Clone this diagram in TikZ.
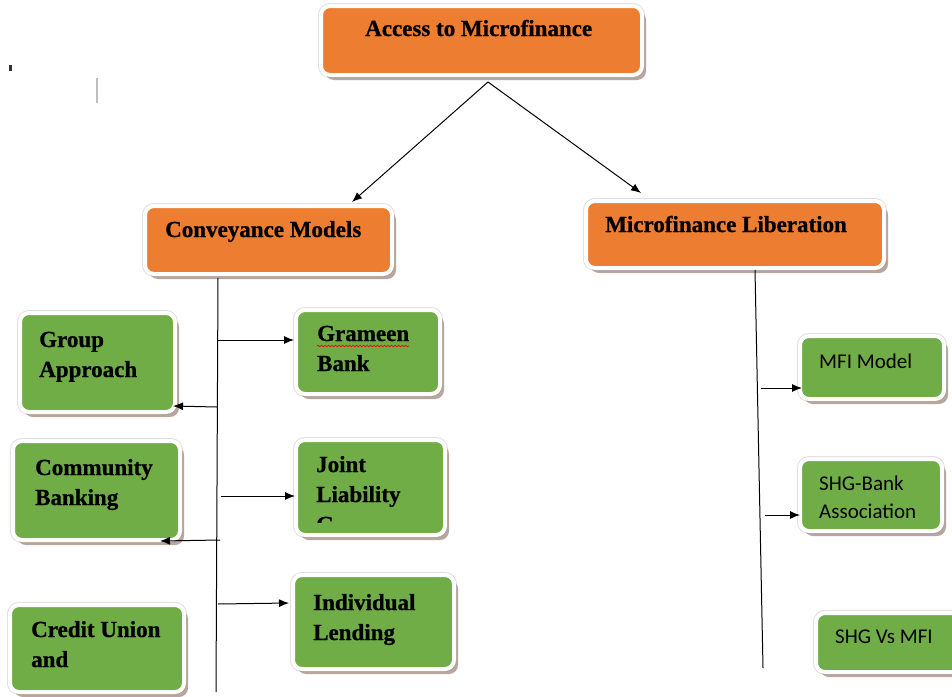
\documentclass[tikz,border=0pt]{standalone}
\usepackage{fontspec}
\setmainfont[BoldFeatures={FakeBold=0.8}]{Liberation Serif}
\newfontfamily\calib{Carlito}
\usetikzlibrary{shadows,arrows.meta,decorations.pathmorphing}
\definecolor{boxorange}{RGB}{237,125,49}
\definecolor{boxgreen}{RGB}{112,173,71}
\definecolor{shadowc}{RGB}{165,145,135}
\tikzset{
  card/.style={rectangle, rounded corners=9pt, draw=white, line width=4pt,
    preaction={draw=black!12, line width=6pt},
    drop shadow={shadow xshift=4pt, shadow yshift=-5pt, fill=shadowc, opacity=0.8},
    inner sep=0pt},
  obox/.style={card, fill=boxorange},
  gbox/.style={card, fill=boxgreen},
  ttl/.style={anchor=base west, inner sep=0pt, align=left,
    font=\fontsize{23}{30}\selectfont\bfseries},
  sns/.style={anchor=base west, inner sep=0pt, align=left,
    font=\calib\fontsize{21}{28}\selectfont},
  conn/.style={draw=black, line width=1pt, -{Latex[length=10pt,width=8pt]}},
  trunk/.style={draw=black, line width=1pt},
}
\begin{document}
\begin{tikzpicture}[x=1pt,y=-1pt]
\useasboundingbox (0,0) rectangle (952,696);
\clip (0,0) rectangle (952,696);

% stray marks
\fill[black!80] (9,65) rectangle (12,71);
\fill[black!25] (96,78) rectangle (98,103);

% boxes
\node[obox, minimum width=321pt, minimum height=69pt] (access) at (481.5,40.5) {};
\node[obox, minimum width=247pt, minimum height=68pt] (conv) at (268.5,240) {};
\node[obox, minimum width=298pt, minimum height=67pt] (lib) at (735,234.5) {};
\node[gbox, minimum width=155pt, minimum height=99pt] (group) at (97.5,362.5) {};
\node[gbox, minimum width=144pt, minimum height=84pt] (grameen) at (368,352) {};
\node[gbox, minimum width=167pt, minimum height=99pt] (community) at (96.5,490.5) {};
\node[gbox, minimum width=149pt, minimum height=95pt] (joint) at (370.5,487.5) {};
\node[gbox, minimum width=174pt, minimum height=87pt] (credit) at (97,648.5) {};
\node[gbox, minimum width=161pt, minimum height=94pt] (indiv) at (373.5,622) {};
\node[gbox, minimum width=144pt, minimum height=63pt] (mfi) at (872,367.5) {};
\node[gbox, minimum width=142pt, minimum height=72pt] (shgbank) at (871,495) {};
\node[gbox, minimum width=146pt, minimum height=59pt] (shgvs) at (889,642.5) {};

% texts (multi-line nodes: base = baseline of last line)
\node[ttl] (taccess) at (365,36) {Access to Microfinance};
\node[ttl] (tconv) at (165,237) {Conveyance Models};
\node[ttl] (tlib) at (605,232) {Microfinance Liberation};
\node[ttl] (tgroup) at (39,377) {Group\\Approach};
\node[ttl] (tgrameen) at (317,371) {Grameen\\Bank};
\draw[red, line width=0.7pt, decorate, decoration={snake, segment length=3.5pt, amplitude=0.8pt}]
  (317,346) -- (409,346);
\node[ttl] (tcommunity) at (35,505) {Community\\Banking};
\node[ttl] (tjoint) at (316,502) {Joint\\Liability};
\begin{scope}
  \clip (296,510) rectangle (445,522);
  \node[ttl] (tjointc) at (316,532) {G};
\end{scope}
\node[ttl] (tcredit) at (31,667) {Credit Union\\and};
\node[ttl] (tindiv) at (313,640) {Individual\\Lending};
\node[sns] (tmfi) at (819,368) {MFI Model};
\node[sns] (tshgbank) at (819,518) {SHG-Bank\\Association};
\node[sns] (tshgvs) at (835,643) {SHG Vs MFI};

% connectors
\coordinate (acs) at (488,82);
\coordinate (cvtip) at (352,202);
\coordinate (lbtip) at (641,193);
\draw[conn] (acs) -- (cvtip);
\draw[conn] (acs) -- (lbtip);

\coordinate (lt1) at (218,278);
\coordinate (lt2) at (216,692);
\draw[trunk] (lt1) -- (lt2);
\coordinate (ga) at (218,340);
\coordinate (gb) at (294,340);
\draw[conn] (ga) -- (gb);
\coordinate (ra) at (217,407);
\coordinate (rb) at (173,406);
\draw[conn] (ra) -- (rb);
\coordinate (ja) at (221,496);
\coordinate (jb) at (295,496);
\draw[conn] (ja) -- (jb);
\coordinate (ca) at (220,540);
\coordinate (cb) at (160,541);
\draw[conn] (ca) -- (cb);
\coordinate (ia) at (218,604);
\coordinate (ib) at (289,603);
\draw[conn] (ia) -- (ib);

\coordinate (rt1) at (755,270);
\coordinate (rt2) at (763,668);
\draw[trunk] (rt1) -- (rt2);
\coordinate (ma) at (761,388);
\coordinate (mb) at (802,388);
\draw[conn] (ma) -- (mb);
\coordinate (sa) at (765,515);
\coordinate (sb) at (800,515);
\draw[conn] (sa) -- (sb);
\end{tikzpicture}
\end{document}
